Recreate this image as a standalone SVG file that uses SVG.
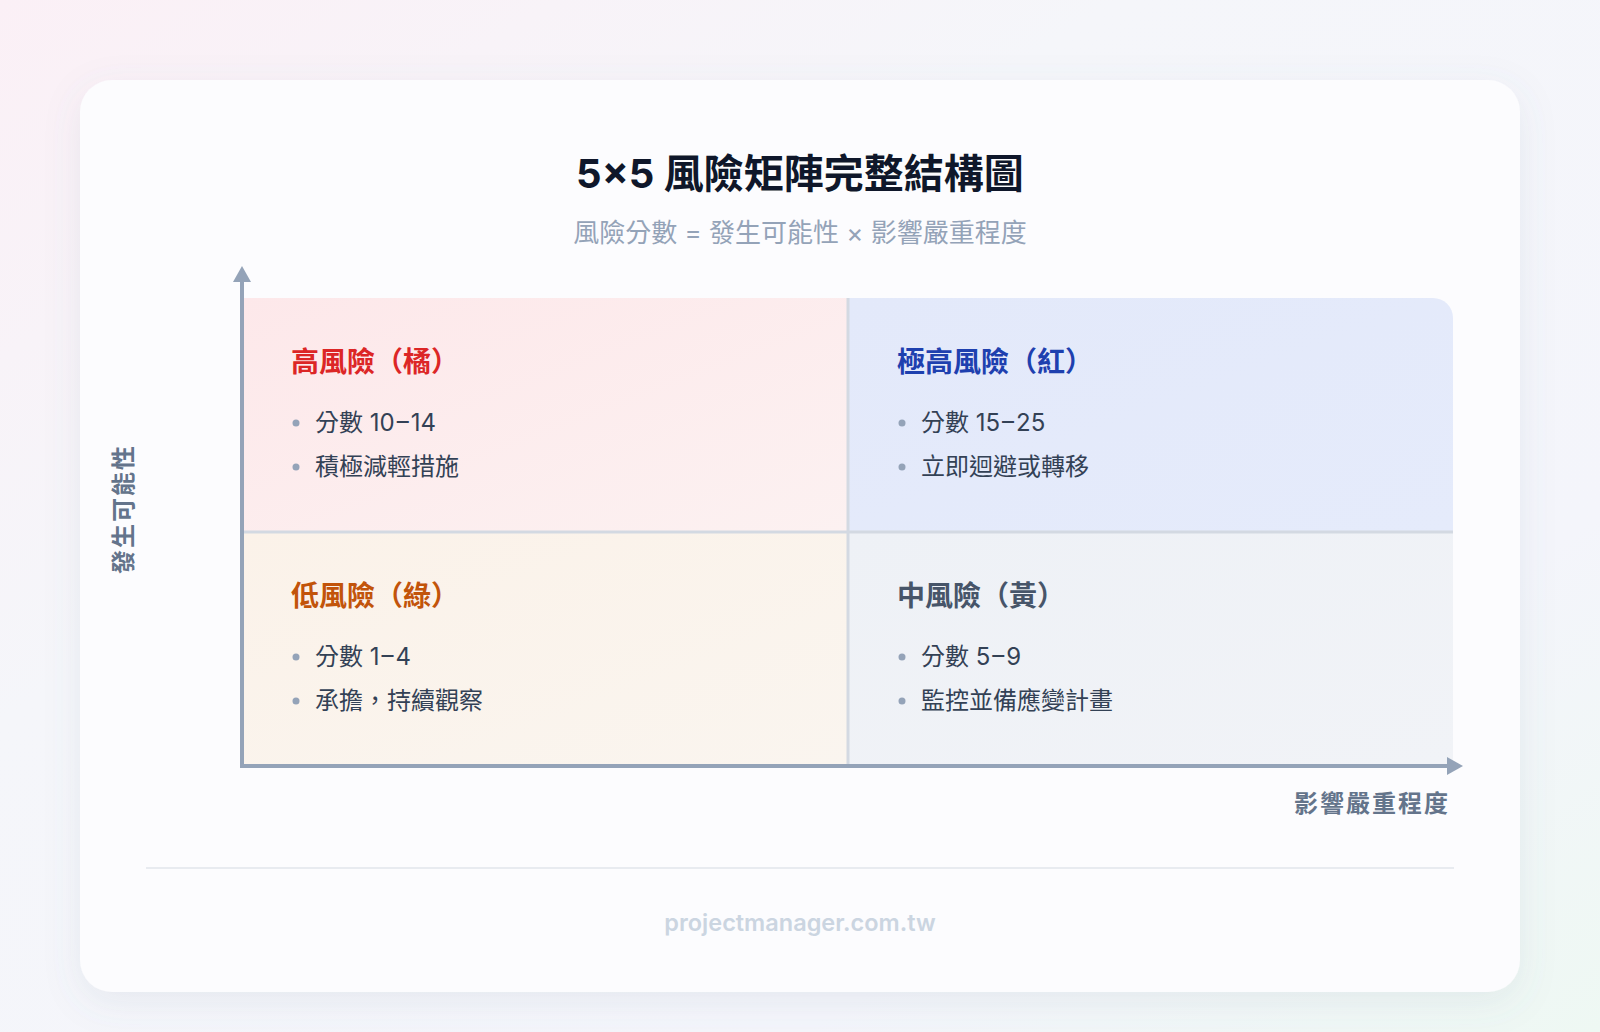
<svg xmlns="http://www.w3.org/2000/svg" width="1600" height="1032" viewBox="0 0 1600 1032">
<defs>
<linearGradient id="bg" x1="0" y1="0" x2="1" y2="1">
<stop offset="0" stop-color="#fbf0f6"/>
<stop offset="0.35" stop-color="#f5f6fa"/>
<stop offset="0.75" stop-color="#f4f5fb"/>
<stop offset="1" stop-color="#eef8f3"/>
</linearGradient>
<linearGradient id="gTL" x1="0" y1="0" x2="1" y2="1">
<stop offset="0" stop-color="#fde8ea"/>
<stop offset="1" stop-color="#fcf1f1"/>
</linearGradient>
<linearGradient id="gTR" x1="0" y1="0" x2="1" y2="1">
<stop offset="0" stop-color="#e3e9fa"/>
<stop offset="1" stop-color="#e5ebfb"/>
</linearGradient>
<linearGradient id="gBL" x1="0" y1="0" x2="1" y2="1">
<stop offset="0" stop-color="#fbf2e9"/>
<stop offset="1" stop-color="#faf5ef"/>
</linearGradient>
<linearGradient id="gBR" x1="0" y1="0" x2="1" y2="1">
<stop offset="0" stop-color="#eef1f6"/>
<stop offset="1" stop-color="#f1f3f7"/>
</linearGradient>
<filter id="sh" x="-10%" y="-10%" width="120%" height="125%">
<feDropShadow dx="0" dy="10" stdDeviation="18" flood-color="#64748b" flood-opacity="0.10"/>
</filter>
<clipPath id="gridClip">
<path d="M242,298 H1433 A20,20 0 0 1 1453,318 V766 H242 Z"/>
</clipPath>
</defs>
<style>
.t{font-family:Inter,"Noto Sans CJK TC","Noto Sans",sans-serif}
.title{font-size:40px;font-weight:700;fill:#0f172a}
.sub{font-size:26px;font-weight:400;fill:#94a3b8}
.lab{font-size:28px;font-weight:700}
.bul{font-size:24px;font-weight:400;fill:#334155}
.dot{fill:#94a3b8}
.axl{font-size:24px;font-weight:700;fill:#64748b;letter-spacing:2px}
.foot{font-size:23.5px;font-weight:600;fill:#cbd5e1}
.div{stroke:#d3d9e2;stroke-width:3}
.axis{stroke:#94a3b8;stroke-width:4}
</style>
<rect x="0" y="0" width="1600" height="1032" fill="url(#bg)"/>
<rect x="80" y="80" width="1440" height="912" rx="32" fill="#fcfcfe" filter="url(#sh)"/>
<g id="title">
<text class="t title" x="800" y="188" text-anchor="middle">5×5 風險矩陣完整結構圖</text>
<text class="t sub" x="800" y="242" text-anchor="middle">風險分數 = 發生可能性 × 影響嚴重程度</text>
</g>
<g clip-path="url(#gridClip)">
<g id="q-high">
<rect x="242" y="298" width="606" height="234" fill="url(#gTL)"/>
<text class="t lab" x="291" y="372" fill="#dc2626">高風險（橘）</text>
<circle class="dot" cx="296" cy="423" r="3.5"/>
<text class="t bul" x="315" y="431">分數 10<tspan dx="2">–</tspan><tspan dx="2">14</tspan></text>
<circle class="dot" cx="296" cy="467" r="3.5"/>
<text class="t bul" x="315" y="475">積極減輕措施</text>
</g>
<g id="q-extreme">
<rect x="848" y="298" width="605" height="234" fill="url(#gTR)"/>
<text class="t lab" x="897" y="372" fill="#1e40af">極高風險（紅）</text>
<circle class="dot" cx="902" cy="423" r="3.5"/>
<text class="t bul" x="921" y="431">分數 15<tspan dx="2">–</tspan><tspan dx="2">25</tspan></text>
<circle class="dot" cx="902" cy="467" r="3.5"/>
<text class="t bul" x="921" y="475">立即迴避或轉移</text>
</g>
<g id="q-low">
<rect x="242" y="532" width="606" height="234" fill="url(#gBL)"/>
<text class="t lab" x="291" y="606" fill="#c2540a">低風險（綠）</text>
<circle class="dot" cx="296" cy="657" r="3.5"/>
<text class="t bul" x="315" y="665">分數 1<tspan dx="2">–</tspan><tspan dx="2">4</tspan></text>
<circle class="dot" cx="296" cy="701" r="3.5"/>
<text class="t bul" x="315" y="709">承擔，持續觀察</text>
</g>
<g id="q-medium">
<rect x="848" y="532" width="605" height="234" fill="url(#gBR)"/>
<text class="t lab" x="897" y="606" fill="#475569">中風險（黃）</text>
<circle class="dot" cx="902" cy="657" r="3.5"/>
<text class="t bul" x="921" y="665">分數 5<tspan dx="2">–</tspan><tspan dx="2">9</tspan></text>
<circle class="dot" cx="902" cy="701" r="3.5"/>
<text class="t bul" x="921" y="709">監控並備應變計畫</text>
</g>
<line class="div" x1="242" y1="532" x2="1453" y2="532"/>
<line class="div" x1="848" y1="298" x2="848" y2="766"/>
</g>
<g id="connectors">
<line class="axis" x1="242" y1="280" x2="242" y2="768"/>
<polygon points="242,266 233,282 251,282" fill="#94a3b8"/>
<line class="axis" x1="240" y1="766" x2="1448" y2="766"/>
<polygon points="1463,766 1447,757 1447,775" fill="#94a3b8"/>
</g>
<g id="axis-labels">
<text class="t axl" x="1294" y="812">影響嚴重程度</text>
<text class="t axl" transform="translate(132,574) rotate(-90)" x="0" y="0">發生可能性</text>
</g>
<g id="footer">
<line x1="146" y1="868" x2="1454" y2="868" stroke="#e8ebf0" stroke-width="2"/>
<text class="t foot" x="800" y="931" text-anchor="middle">projectmanager.com.tw</text>
</g>
</svg>
